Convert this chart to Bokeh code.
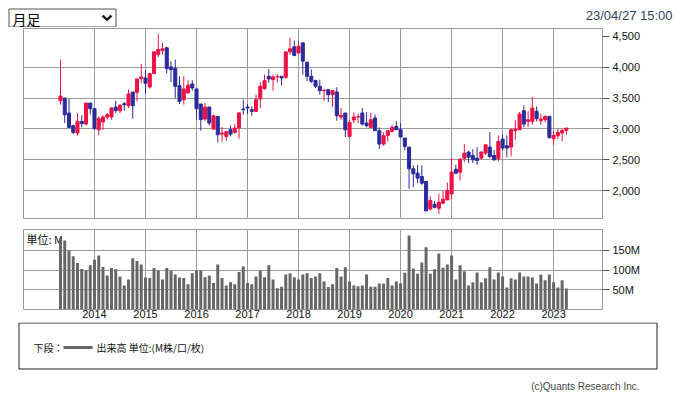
from bokeh.plotting import figure
from bokeh.layouts import column
from bokeh.models import Range1d, FixedTicker, Label, ColumnDataSource, NumeralTickFormatter
from bokeh.embed import file_html
from bokeh.resources import INLINE
from bokeh.core.properties import value

# ---------------- data (monthly candles, May 2013 .. Apr 2023) ----------------
month_index = list(range(120))
year_ticks = [8, 20, 32, 44, 56, 68, 80, 92, 104, 116]
year_labels = ["2014", "2015", "2016", "2017", "2018", "2019", "2020", "2021", "2022", "2023"]

opens = [3457, 3501, 3257, 3051, 2932, 3121, 3078, 3419, 3327, 2986,
         3111, 3192, 3192, 3354, 3295, 3408, 3376, 3598, 3593, 3815,
         3826, 3680, 3896, 4205, 4270, 4314, 4005, 3978, 3701, 3474,
         3582, 3728, 3647, 3403, 3159, 3354, 2997, 3203, 2915, 2878,
         2986, 2943, 3013, 3322, 3354, 3311, 3284, 3485, 3653, 3853,
         3799, 3842, 3853, 3837, 4249, 4330, 4232, 4395, 4081, 3853,
         3783, 3690, 3620, 3636, 3555, 3598, 3192, 3257, 2878, 3143,
         3192, 3257, 3094, 3024, 3176, 2970, 2753, 2894, 2959, 3040,
         2986, 2850, 2704, 2352, 2281, 2227, 2146, 1701, 1777, 1712,
         1793, 1848, 1945, 2346, 2298, 2525, 2623, 2569, 2525, 2525,
         2606, 2704, 2569, 2514, 2834, 2726, 2704, 2970, 2986, 3295,
         3121, 3121, 3284, 3132, 3149, 3203, 2840, 2888, 2932, 2975]
highs = [4124, 3501, 3490, 3067, 3257, 3219, 3419, 3419, 3327, 3203,
         3219, 3257, 3349, 3457, 3403, 3436, 3636, 3598, 3810, 4054,
         3951, 3896, 4249, 4541, 4395, 4330, 4097, 4124, 3853, 3853,
         3788, 3788, 3647, 3403, 3419, 3354, 3230, 3203, 3029, 2959,
         3056, 3078, 3273, 3474, 3403, 3365, 3555, 3761, 3880, 3972,
         3880, 3891, 3853, 4249, 4476, 4433, 4422, 4395, 4081, 3962,
         3799, 3799, 3647, 3636, 3620, 3674, 3338, 3257, 3149, 3268,
         3246, 3338, 3268, 3257, 3230, 3024, 2943, 2970, 3067, 3121,
         3094, 2850, 2704, 2406, 2417, 2406, 2146, 1902, 1831, 1945,
         1994, 2130, 2536, 2417, 2525, 2753, 2644, 2671, 2704, 2633,
         2742, 2948, 2661, 2894, 2905, 2894, 3002, 3138, 3273, 3381,
         3284, 3517, 3365, 3241, 3219, 3203, 2959, 2997, 2997, 3013]
lows = [3392, 3094, 3013, 2915, 2894, 3024, 3056, 3230, 2986, 2894,
        2986, 3149, 3149, 3257, 3257, 3295, 3338, 3165, 3447, 3745,
        3571, 3653, 3896, 4162, 4205, 3896, 3761, 3501, 3403, 3392,
        3582, 3620, 3149, 2970, 3132, 3056, 2986, 2780, 2796, 2807,
        2878, 2921, 2840, 3230, 3241, 3213, 3273, 3338, 3636, 3745,
        3620, 3755, 3701, 3810, 4205, 4189, 4216, 3880, 3772, 3745,
        3663, 3555, 3457, 3436, 3354, 3132, 3149, 2867, 2867, 3094,
        3094, 3056, 3024, 3013, 2970, 2677, 2726, 2796, 2943, 2986,
        2867, 2650, 2027, 2054, 2119, 2092, 1669, 1674, 1712, 1620,
        1793, 1848, 1858, 2270, 2162, 2460, 2444, 2444, 2417, 2509,
        2579, 2525, 2482, 2471, 2644, 2536, 2552, 2823, 2986, 3024,
        3029, 3067, 3121, 3067, 3111, 2840, 2742, 2834, 2796, 2904]
closes = [3533, 3230, 3024, 2942, 3121, 3083, 3419, 3327, 3002, 3165,
          3192, 3230, 3338, 3295, 3381, 3392, 3566, 3376, 3810, 3842,
          3739, 3896, 4249, 4287, 4298, 3978, 3962, 3690, 3447, 3647,
          3707, 3663, 3327, 3149, 3354, 3094, 3213, 2905, 2932, 2959,
          2915, 3013, 3257, 3311, 3338, 3284, 3474, 3690, 3782, 3810,
          3842, 3848, 3826, 4249, 4298, 4189, 4341, 4097, 3853, 3772,
          3690, 3620, 3625, 3555, 3620, 3213, 3219, 2986, 3105, 3192,
          3197, 3078, 3051, 3149, 2970, 2753, 2888, 2970, 3024, 2986,
          2867, 2715, 2352, 2270, 2200, 2119, 1669, 1837, 1728, 1810,
          1858, 1999, 2298, 2281, 2509, 2606, 2541, 2498, 2487, 2623,
          2742, 2552, 2498, 2796, 2688, 2688, 2986, 2997, 3241, 3078,
          3149, 3338, 3165, 3159, 3203, 2861, 2894, 2943, 2975, 3013]
volumes_m = [180, 175, 150, 135, 118, 103, 99, 112, 126, 137,
             108, 86, 105, 102, 84, 61, 76, 130, 123, 114,
             81, 80, 105, 99, 76, 105, 99, 89, 81, 80,
             64, 92, 99, 99, 82, 86, 67, 114, 80, 61,
             69, 64, 95, 109, 67, 64, 84, 99, 82, 112,
             76, 54, 58, 89, 92, 82, 76, 89, 92, 80,
             84, 92, 71, 57, 64, 105, 84, 107, 71, 61,
             59, 61, 89, 58, 58, 66, 66, 80, 61, 71,
             66, 93, 188, 104, 91, 119, 158, 91, 102, 142,
             106, 114, 137, 76, 112, 97, 61, 69, 94, 69,
             79, 107, 76, 94, 84, 56, 79, 76, 94, 84,
             84, 81, 66, 89, 74, 89, 69, 56, 74, 53]
price_ticks = [2000, 2500, 3000, 3500, 4000, 4500]
price_grid = [2000, 2500, 3000, 3500, 4000]
volume_ticks = [50, 100, 150]
volume_labels = ["50M", "100M", "150M"]

UP = "#ee1144"
DOWN = "#2b2b9b"
GRID = "#9a9a9a"
W = 677
NUM_FONT = "Liberation Sans"
JP_FONT = "Noto Sans CJK JP"

colors = [UP if c >= o else DOWN for o, c in zip(opens, closes)]
src = ColumnDataSource(dict(
    x=month_index, open=opens, high=highs, low=lows, close=closes,
    top=[max(o, c) for o, c in zip(opens, closes)],
    bottom=[min(o, c) for o, c in zip(opens, closes)],
    color=colors, vol=volumes_m))

def bare(fig):
    fig.grid.visible = False
    fig.background_fill_color = "white"
    fig.border_fill_color = "white"
    fig.frame_align = False
    return fig

# ---------------- header: period selector + timestamp ----------------
HH = 27
hdr = figure(width=W, height=HH, x_range=Range1d(0, W), y_range=Range1d(HH, 0),
             output_backend="svg", toolbar_location=None, min_border=0,
             x_axis_location=None, y_axis_location=None, outline_line_color=None)
bare(hdr)
hdr.quad(left=8.5, right=115.5, top=8.5, bottom=26.5, fill_color="white",
         line_color="#555555", line_width=1)
hdr.text(x=[12], y=[18], text=["月足"], text_font=value(JP_FONT), text_font_size="14px",
         text_baseline="middle", text_align="left", text_color="#000000")
hdr.patch(x=[101.5, 103, 106.5, 110, 111.5, 106.5], y=[16, 14.5, 18, 14.5, 16, 20.6],
          fill_color="#111111", line_color="#111111", line_width=0.5)
hdr.text(x=[672], y=[15], text=["23/04/27 15:00"], text_font=value(NUM_FONT),
         text_font_size="13px", text_baseline="middle", text_align="right",
         text_color="#2e3f5c")

# ---------------- price panel ----------------
xr = Range1d(-8.7, 127.5)
pp = figure(width=W, height=196, x_range=xr, y_range=Range1d(1546, 4628),
            output_backend="svg", toolbar_location=None,
            min_border_left=23, min_border_right=75, min_border_top=1, min_border_bottom=5,
            x_axis_location=None, y_axis_location="right",
            outline_line_color=GRID, outline_line_width=1)
pp.xgrid.ticker = FixedTicker(ticks=year_ticks)
pp.xgrid.grid_line_color = GRID
pp.yaxis.ticker = FixedTicker(ticks=price_ticks)
pp.yaxis.formatter = NumeralTickFormatter(format="0,0")
pp.ygrid.ticker = FixedTicker(ticks=price_grid)
pp.ygrid.grid_line_color = GRID
pp.yaxis.axis_line_color = None
pp.yaxis.major_tick_out = 7
pp.yaxis.major_tick_in = 0
pp.yaxis.minor_tick_line_color = None
pp.yaxis.major_tick_line_color = "#555555"
pp.yaxis.major_label_standoff = 3
pp.yaxis.major_label_text_font = NUM_FONT
pp.yaxis.major_label_text_font_size = "11px"
pp.yaxis.major_label_text_color = "#111111"
pp.segment(x0="x", y0="low", x1="x", y1="high", source=src, line_color="color", line_width=1)
pp.vbar(x="x", width=0.72, top="top", bottom="bottom", source=src,
        fill_color="color", line_color="color", line_width=1)

# ---------------- volume panel ----------------
vp = figure(width=W, height=99, x_range=xr, y_range=Range1d(0, 203),
            output_backend="svg", toolbar_location=None,
            min_border_left=23, min_border_right=75, min_border_top=6, min_border_bottom=13,
            y_axis_location="right", outline_line_color=GRID, outline_line_width=1)
vp.xaxis.ticker = FixedTicker(ticks=year_ticks)
vp.xaxis.major_label_overrides = {t: l for t, l in zip(year_ticks, year_labels)}
vp.xaxis.axis_line_color = None
vp.xaxis.major_tick_out = 0
vp.xaxis.major_tick_in = 0
vp.xaxis.minor_tick_line_color = None
vp.xaxis.major_label_standoff = 0
vp.xaxis.major_label_text_font = NUM_FONT
vp.xaxis.major_label_text_font_size = "11px"
vp.xaxis.major_label_text_color = "#111111"
vp.yaxis.ticker = FixedTicker(ticks=volume_ticks)
vp.yaxis.major_label_overrides = {t: l for t, l in zip(volume_ticks, volume_labels)}
vp.yaxis.axis_line_color = None
vp.yaxis.major_tick_out = 7
vp.yaxis.major_tick_in = 0
vp.yaxis.minor_tick_line_color = None
vp.yaxis.major_tick_line_color = "#555555"
vp.yaxis.major_label_standoff = 3
vp.yaxis.major_label_text_font = NUM_FONT
vp.yaxis.major_label_text_font_size = "11px"
vp.yaxis.major_label_text_color = "#111111"
vp.xgrid.grid_line_color = GRID
vp.ygrid.grid_line_color = GRID
vp.add_layout(Label(x=-8.7, y=199, x_offset=3, text="単位: M", text_baseline="top",
                    text_font=JP_FONT, text_font_size="11px", text_color="#111111",
                    level="underlay"))
vp.vbar(x="x", width=0.7, top="vol", bottom=0, source=src,
        fill_color="#666666", line_color=None)

# ---------------- legend box + copyright ----------------
LH = 397 - HH - 196 - 99
lg = figure(width=W, height=LH, x_range=Range1d(0, W), y_range=Range1d(LH, 0),
            output_backend="svg", toolbar_location=None, min_border=0,
            x_axis_location=None, y_axis_location=None, outline_line_color=None)
bare(lg)
lg.quad(left=18.5, right=656.5, top=0.5, bottom=46.5, fill_color="white",
        line_color="#222222", line_width=1)
lg.text(x=[33], y=[25], text=["下段："], text_font=value(JP_FONT), text_font_size="10px",
        text_baseline="middle", text_align="left", text_color="#111111")
lg.segment(x0=[63], y0=[25], x1=[92], y1=[25], line_color="#666666", line_width=3)
lg.text(x=[96], y=[25], text=["出来高 単位:(M株/口/枚)"], text_font=value(JP_FONT),
        text_font_size="10px", text_baseline="middle", text_align="left", text_color="#111111")
lg.text(x=[639], y=[64], text=["(c)Quants Research Inc."], text_font=value(NUM_FONT),
        text_font_size="10px", text_baseline="middle", text_align="right", text_color="#444444")

layout = column(hdr, pp, vp, lg, spacing=0)
open("out.html", "w").write(file_html(layout, INLINE))
